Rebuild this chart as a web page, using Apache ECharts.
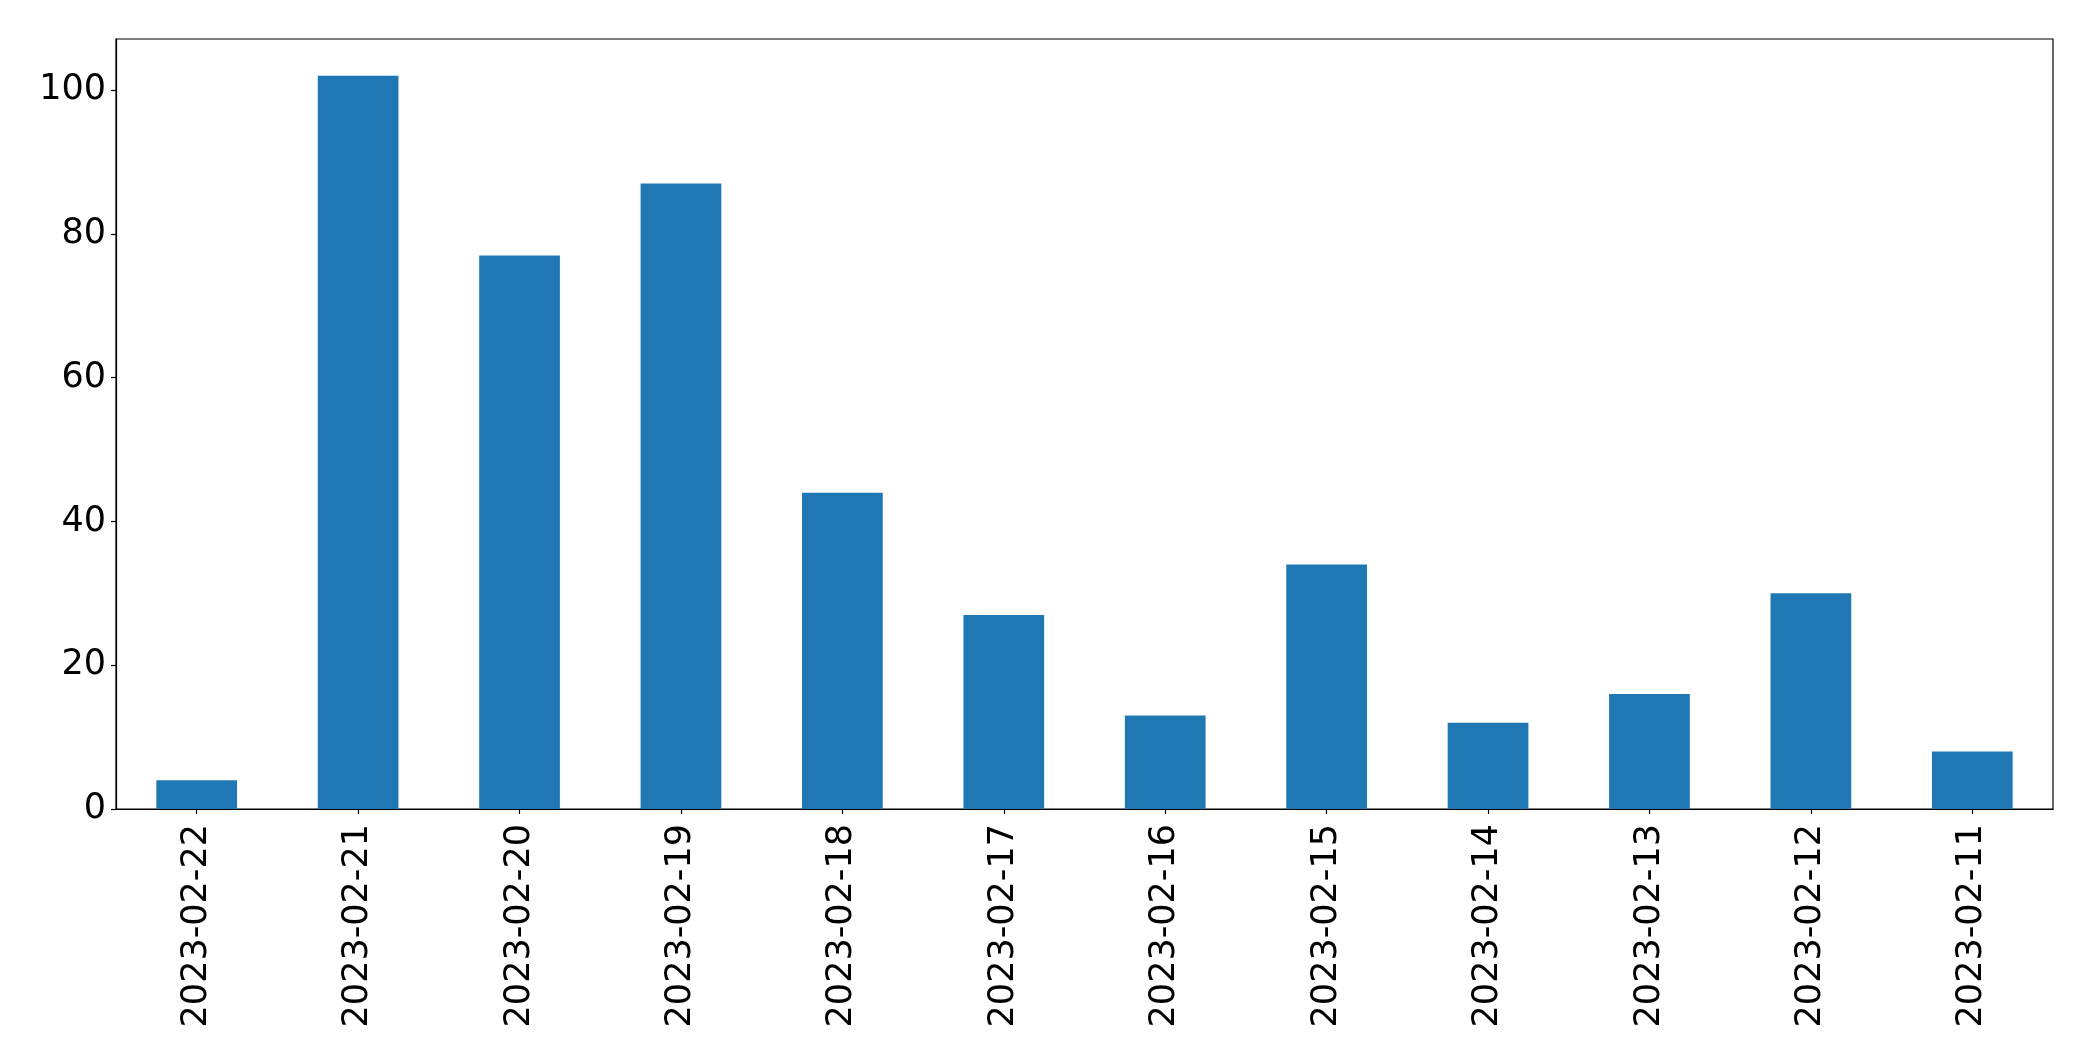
<!DOCTYPE html>
<html>
<head>
<meta charset="utf-8">
<script src="https://cdn.jsdelivr.net/npm/echarts@6/dist/echarts.min.js"></script>
<style>
html,body{margin:0;padding:0;background:#fff;}
#chart{width:2093px;height:1061px;}
</style>
</head>
<body>
<div id="chart"></div>
<script>
const categories = ["2023-02-22","2023-02-21","2023-02-20","2023-02-19","2023-02-18","2023-02-17","2023-02-16","2023-02-15","2023-02-14","2023-02-13","2023-02-12","2023-02-11"];
const counts = [4,102,77,87,44,27,13,34,12,16,30,8];
const yTicks = [0,20,40,60,80,100];
const yMax = 107.1;

const font = "DejaVu Sans";
const chart = echarts.init(document.getElementById('chart'), null, {renderer:'canvas'});
chart.setOption({
  animation: false,
  backgroundColor: '#fff',
  grid: {left:116, top:39, width:1937, height:770, show:true, borderColor:'#000', borderWidth:1.2, backgroundColor:'transparent', containLabel:false},
  xAxis: {
    type:'category', data:categories, boundaryGap:true,
    axisLine:{show:true, lineStyle:{color:'#000', width:1.2}},
    axisTick:{show:true, alignWithLabel:true, length:5, lineStyle:{color:'#000', width:1.2}},
    axisLabel:{rotate:90, margin:15, color:'#000', fontFamily:font, fontSize:35, interval:0},
    splitLine:{show:false}
  },
  yAxis: {
    type:'value', min:0, max:yMax,
    axisLine:{show:true, lineStyle:{color:'#000', width:1.2}},
    axisTick:{show:true, length:5, customValues:yTicks, lineStyle:{color:'#000', width:1.2}},
    axisLabel:{color:'#000', fontFamily:font, fontSize:35, margin:10, customValues:yTicks},
    splitLine:{show:false}
  },
  series: [{
    type:'bar', data:counts, barWidth:'50%',
    itemStyle:{color:'#1f77b4'}
  }]
});
</script>
</body>
</html>
